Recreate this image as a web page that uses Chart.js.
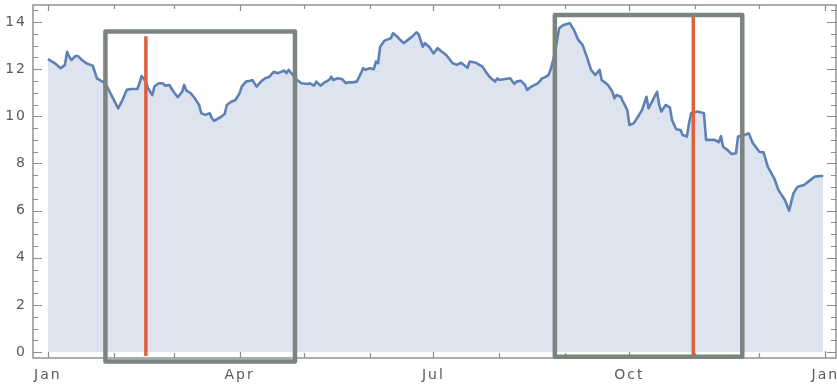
<!DOCTYPE html>
<html><head><meta charset="utf-8">
<script src="https://cdn.jsdelivr.net/npm/chart.js@4/dist/chart.umd.min.js"></script>
<style>html,body{margin:0;padding:0;background:#fff}#wrap{width:837px;height:388px;position:relative}</style>
</head><body><div id="wrap"><canvas id="c"></canvas></div>
<script>
// day of year (0 = Jan 1)
const days = [0,3,6,8,9,10,11,13,14,16,18,21,22,23,25,27,29,31,33,35,37,39,42,43,44,46,47,49,50,52,54,55,57,59,61,63,64,65,67,69,71,72,74,76,77,78,81,83,84,86,88,90,91,93,95,96,98,100,102,104,106,108,111,112,113,115,117,119,122,123,125,126,128,130,132,133,134,136,138,140,141,143,145,147,148,149,151,153,154,155,156,158,161,162,164,165,167,169,171,173,174,176,177,179,181,183,185,187,190,192,194,197,198,201,204,206,208,210,211,212,214,217,219,220,222,224,225,227,230,232,233,235,236,238,240,242,245,247,249,251,253,255,257,259,260,263,265,266,267,269,270,272,273,275,277,279,280,281,282,284,286,287,288,290,292,293,295,297,298,300,301,302,305,308,309,313,315,316,317,319,321,323,324,327,329,331,334,336,338,341,343,346,348,350,352,355,357,360,363,364];
const values = [12.42,12.27,12.04,12.18,12.74,12.53,12.39,12.56,12.56,12.39,12.25,12.15,11.89,11.61,11.50,11.40,11.04,10.69,10.34,10.69,11.12,11.16,11.16,11.40,11.71,11.47,11.19,10.90,11.26,11.40,11.40,11.30,11.33,11.04,10.81,11.04,11.33,11.09,10.98,10.76,10.48,10.13,10.06,10.13,9.92,9.81,9.96,10.10,10.48,10.62,10.69,10.98,11.26,11.47,11.51,11.54,11.26,11.47,11.61,11.68,11.89,11.83,11.94,11.83,11.97,11.75,11.54,11.40,11.37,11.40,11.30,11.47,11.30,11.44,11.54,11.68,11.54,11.61,11.58,11.40,11.44,11.44,11.47,11.83,12.04,11.97,12.04,12.00,12.32,12.25,12.95,13.21,13.31,13.52,13.38,13.28,13.10,13.24,13.38,13.56,13.49,12.95,13.10,12.95,12.67,12.89,12.74,12.60,12.25,12.18,12.27,12.06,12.32,12.27,12.11,11.83,11.61,11.47,11.61,11.54,11.57,11.61,11.37,11.47,11.51,11.33,11.12,11.26,11.40,11.61,11.64,11.75,11.97,12.67,13.73,13.87,13.95,13.66,13.24,13.03,12.53,11.97,11.75,11.97,11.54,11.33,11.04,10.76,10.90,10.83,10.62,10.27,9.63,9.70,9.98,10.27,10.55,10.83,10.34,10.69,11.04,10.48,10.20,10.48,10.38,9.84,9.45,9.42,9.21,9.14,9.70,10.13,10.20,10.13,9.00,9.00,8.90,9.16,8.71,8.57,8.40,8.43,9.14,9.21,9.28,8.86,8.50,8.47,7.86,7.37,6.87,6.45,6.00,6.73,7.01,7.09,7.23,7.44,7.47,7.47];
const monthStarts = [0,31,59,90,120,151,181,212,243,273,304,334,365];
const monthLabels = ['Jan','','','Apr','','','Jul','','','Oct','','','Jan'];
const yTickValues = [0,2,4,6,8,10,12,14];
// highlighted windows (day ranges) and their top values
const windowStart = [27, 238];
const windowEnd = [116, 326];
const windowTop = [13.6, 14.3];
const windowBottom = [-0.4, -0.2];
// event markers (day) and their top values
const markerDays = [46, 303];
const markerTop = [13.4, 14.3];

const FRAME = '#8c8c8c';

const framePlugin = {
  id: 'frame',
  beforeInit(chart){ chart.ctx.letterSpacing = '2px'; },
  beforeDraw(chart){ chart.ctx.letterSpacing = '2px'; },
  beforeDatasetsDraw(chart){
    const {ctx, chartArea:a, scales:{x, y}} = chart;
    ctx.save();
    ctx.strokeStyle = FRAME;
    ctx.lineWidth = 1.4;
    ctx.strokeRect(a.left, a.top, a.right - a.left, a.bottom - a.top);
    ctx.lineWidth = 1.2;
    ctx.beginPath();
    for (let v = 0; v <= 14.5; v += 0.5) {
      const py = Math.round(y.getPixelForValue(v)) + 0.5;
      if (py < a.top + 2) continue;
      const len = (v % 2 === 0) ? 9 : 5;
      ctx.moveTo(a.left, py); ctx.lineTo(a.left + len, py);
      ctx.moveTo(a.right, py); ctx.lineTo(a.right - len, py);
    }
    monthStarts.forEach((d, i) => {
      const px = Math.round(x.getPixelForValue(d)) + 0.5;
      const len = monthLabels[i] ? 7 : 5;
      ctx.moveTo(px, a.bottom); ctx.lineTo(px, a.bottom - len);
      ctx.moveTo(px, a.top); ctx.lineTo(px, a.top + len - 1);
    });
    ctx.stroke();
    ctx.restore();
  },
  afterDatasetsDraw(chart){
    const {ctx, scales:{x, y}} = chart;
    ctx.save();
    ctx.strokeStyle = '#e0603a';
    ctx.lineWidth = 3.5;
    markerDays.forEach((d, i) => {
      const px = x.getPixelForValue(d);
      ctx.beginPath();
      ctx.moveTo(px, y.getPixelForValue(markerTop[i]));
      ctx.lineTo(px, y.getPixelForValue(-0.17));
      ctx.stroke();
    });
    ctx.strokeStyle = '#7b857e';
    ctx.lineWidth = 4.5;
    ctx.lineJoin = 'round';
    windowStart.forEach((s, i) => {
      const l = x.getPixelForValue(s), r = x.getPixelForValue(windowEnd[i]);
      const t = y.getPixelForValue(windowTop[i]), b = y.getPixelForValue(windowBottom[i]);
      ctx.strokeRect(l, t, r - l, b - t);
    });
    ctx.restore();
  }
};

new Chart(document.getElementById('c'), {
  type: 'line',
  data: {
    datasets: [{
      data: days.map((d, i) => ({x: d, y: values[i]})),
      borderColor: '#5e81b5',
      borderWidth: 2.6,
      backgroundColor: 'rgb(222,228,239)',
      fill: {value: 0},
      pointRadius: 0,
      tension: 0,
      borderJoinStyle: 'round'
    }]
  },
  options: {
    responsive: true,
    maintainAspectRatio: false,
    animation: false,
    layout: {padding: {top: 5, right: 1, left: 0, bottom: 0}},
    plugins: {legend: {display: false}, tooltip: {enabled: false}},
    scales: {
      x: {
        type: 'linear', min: -7, max: 370,
        afterBuildTicks(s){ s.ticks = monthStarts.map(v => ({value: v})); },
        afterFit(s){ s.height = 30; s.paddingLeft = 0; s.paddingRight = 0; },
        grid: {display: false, drawTicks: false},
        border: {display: false},
        ticks: {
          autoSkip: false, maxRotation: 0, padding: 9,
          color: '#5a5a5a',
          font: {family: 'DejaVu Sans', size: 14},
          callback(v){ const i = monthStarts.indexOf(v); return i >= 0 ? monthLabels[i] : ''; }
        }
      },
      y: {
        min: -0.25, max: 14.72,
        afterBuildTicks(s){ s.ticks = yTickValues.map(v => ({value: v})); },
        afterFit(s){ s.width = 33; s.paddingTop = 0; s.paddingBottom = 0; },
        grid: {display: false, drawTicks: false},
        border: {display: false},
        ticks: {
          padding: 6,
          color: '#5a5a5a',
          font: {family: 'DejaVu Sans', size: 14}
        }
      }
    }
  },
  plugins: [framePlugin]
});
</script>
</body></html>
